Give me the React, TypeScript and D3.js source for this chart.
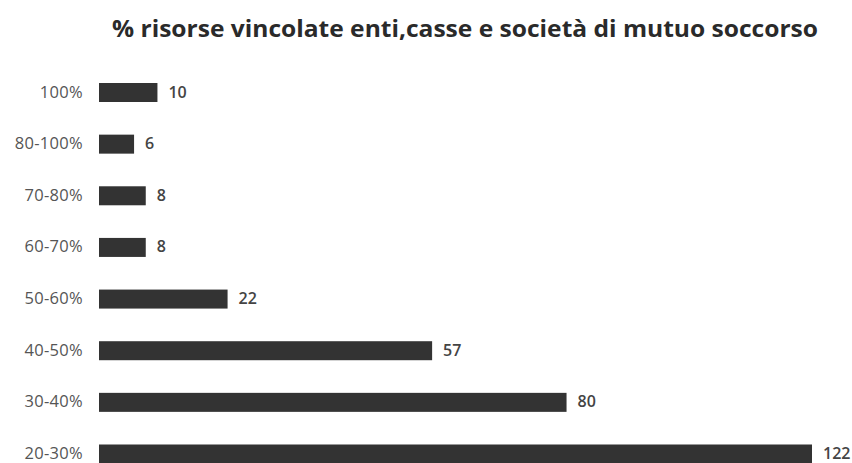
import React from "react";
import * as d3 from "d3";

const categories = ["100%", "80-100%", "70-80%", "60-70%", "50-60%", "40-50%", "30-40%", "20-30%"];
const values = [10, 6, 8, 8, 22, 57, 80, 122];
const title = "% risorse vincolate enti,casse e società di mutuo soccorso";

export default function App() {
  const W = 852, H = 463;
  const x = d3.scaleLinear().domain([0, 122]).range([99, 812]);
  const y = d3.scalePoint<string>().domain(categories).range([92.5, 454]);
  const bh = 19;
  return (
    <svg width={W} height={H} style={{ position: "absolute", left: 0, top: 0, background: "#fff" }}>
      <text x={112} y={37} textLength={706} lengthAdjust="spacingAndGlyphs" fontFamily="Open Sans, sans-serif" fontWeight={700} fontSize={24} fill="#2a2a2a">
        {title}
      </text>
      {categories.map((c, i) => {
        const cy = y(c)!;
        return (
          <g key={c}>
            <text x={83} y={cy + 5} textAnchor="end" fontFamily="Open Sans, sans-serif" fontSize={16.5} letterSpacing={0.3} fill="#555">
              {c}
            </text>
            <rect x={x(0)} y={cy - bh / 2} width={x(values[i]) - x(0)} height={bh} fill="#333" />
            <text x={x(values[i]) + 11} y={cy + 5} fontFamily="Open Sans, sans-serif" fontWeight={600} fontSize={16} fill="#444">
              {values[i]}
            </text>
          </g>
        );
      })}
    </svg>
  );
}
